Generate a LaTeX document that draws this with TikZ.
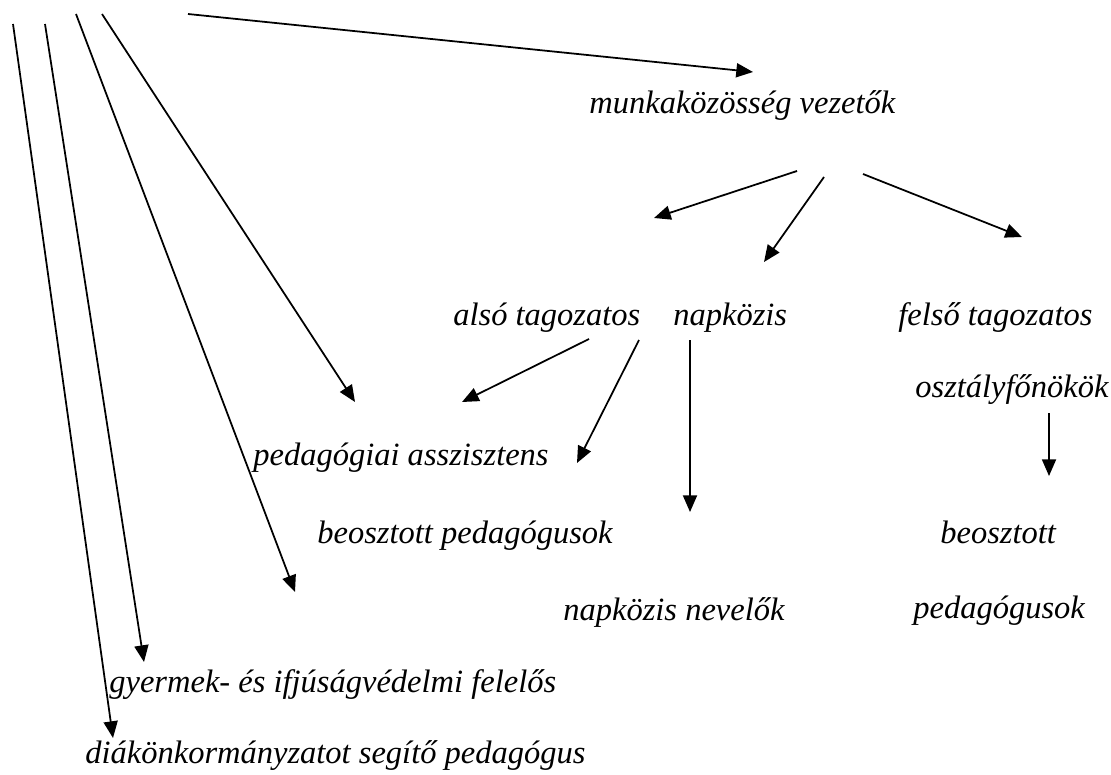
\documentclass[tikz,border=0pt]{standalone}
\usepackage{fontspec}
\setmainfont{Liberation Serif}
\usepackage{tikz}
\usetikzlibrary{arrows.meta}
\definecolor{orgink}{HTML}{000000}
\tikzset{
  orglabel/.style={anchor=base west, inner sep=0pt, text=orgink,
                   font=\fontsize{18.5}{22}\selectfont\itshape},
  orgarrow/.style={draw=orgink, line width=1pt,
                   -{Triangle[length=9.5pt,width=8pt]}}}

\begin{document}
\begin{tikzpicture}[x=0.02cm, y=-0.02cm]
  \useasboundingbox (0,0) rectangle (1111,774);
  \node[orglabel] (mkv)   at (589,113) {munkaközösség vezetők};
  \node[orglabel] (also)  at (453,325) {alsó tagozatos};
  \node[orglabel] (napk)  at (673,325) {napközis};
  \node[orglabel] (felso) at (898,325) {felső tagozatos};
  \node[orglabel] (ofo)   at (915,397) {osztályfőnökök};
  \node[orglabel] (pedas) at (253,465) {pedagógiai asszisztens};
  \node[orglabel] (beped) at (317,543) {beosztott pedagógusok};
  \node[orglabel] (beo)   at (940,543) {beosztott};
  \node[orglabel] (napnv) at (563,620) {napközis nevelők};
  \node[orglabel] (ped)   at (913,618) {pedagógusok};
  \node[orglabel] (gyif)  at (109,692) {gyermek- és ifjúságvédelmi felelős};
  \node[orglabel] (dok)   at (85,763)  {diákönkormányzatot segítő pedagógus};
  \foreach \nm/\sx/\sy/\ex/\ey in {dok/13/24/113/738, gyif/45/24/144/662,
      beped/76/14/295/592, pedas/102/14/355/402, mkv/188/14/753/72,
      also/797/171/654/218, napk/824/177/764/262, felso/863/174/1022/237,
      alsopa/589/339/462/402, alsobp/639/340/577/463,
      napnv/690/340/690/512, ofobeo/1049/413/1049/476}
    {\coordinate (\nm-from) at (\sx,\sy);
     \coordinate (\nm-to) at (\ex,\ey);
     \draw[orgarrow] (\nm-from) -- (\nm-to);}
\end{tikzpicture}
\end{document}
